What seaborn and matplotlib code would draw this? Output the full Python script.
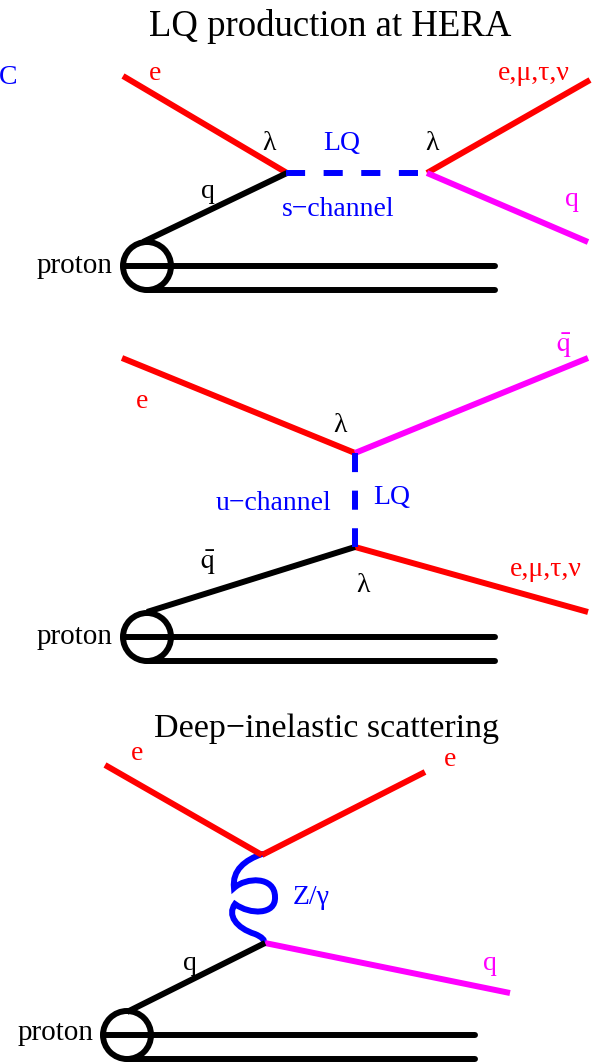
import matplotlib
matplotlib.use("Agg")
import matplotlib.pyplot as plt
import seaborn as sns
import pandas as pd
from matplotlib.patches import Circle, PathPatch
from matplotlib.path import Path

# ---------------- data (diagram geometry in pixel units) ----------------
# propagator / fermion lines: x0, y0, x1, y1
line_names = ["e_in1", "lep_out1", "q_out1", "q_in1", "lq1",
              "e_in2", "qbar_out2", "lep_out2", "qbar_in2", "lq2",
              "e_in3", "e_out3", "q_out3", "q_in3"]
line_x0 = [123, 427, 427, 143, 286, 122, 355, 355, 147, 355, 105, 262, 265, 127]
line_y0 = [76, 173, 173, 242, 173, 358, 453, 547, 612, 453, 765, 855, 943, 1012]
line_x1 = [287, 590, 588, 287, 427, 355, 588, 588, 355, 355, 262, 425, 510, 265]
line_y1 = [173, 80, 242, 173, 173, 453, 358, 612, 547, 547, 855, 772, 993, 943]
line_kind = ["lepton", "lepton", "quark", "parton", "lq",
             "lepton", "quark", "lepton", "parton", "lq",
             "lepton", "lepton", "quark", "parton"]

# proton blobs: centre x, centre y, radius, beam end x
proton_x = [147, 147, 127]
proton_y = [266, 637, 1035]
proton_r = [24, 24, 24]
beam_end = [495, 495, 475]

# labels
label_text = ["C", "e", "λ", "LQ", "λ", "e,μ,τ,ν", "q", "s−channel", "q", "proton",
              "e", r"$\bar{\mathrm{q}}$", "λ", "LQ", "u−channel", r"$\bar{\mathrm{q}}$", "λ", "e,μ,τ,ν", "proton",
              "e", "e", "Z/γ", "q", "q", "proton"]
label_x = [8, 155, 269, 342, 432, 534, 572, 338, 208, 75,
           142, 564, 340, 392, 274, 208, 363, 546, 75,
           137, 450, 311, 490, 190, 56]
label_y = [77, 74, 143, 143, 143, 73, 199, 209, 191, 266,
           401, 346, 426, 498, 503, 563, 586, 569, 637,
           753, 759, 898, 964, 963, 1033]
label_kind = ["blue", "red", "black", "blue", "black", "red", "magenta", "blue", "black", "black",
              "red", "magenta", "black", "blue", "blue", "black", "black", "red", "black",
              "red", "red", "blue", "magenta", "black", "black"]

titles = ["LQ production at HERA", "Deep−inelastic scattering"]
title_x = [330, 327]
title_y = [26, 729]

# Z/gamma exchange curve (cubic Bezier control points)
boson_pts = [(262, 854), (245, 860), (232, 870), (234, 888),
             (246, 877), (275, 876), (275, 897),
             (276, 915), (250, 915), (235, 904),
             (227, 915), (236, 928), (255, 934),
             (262, 937), (265, 940), (264, 943)]

# ---------------- styling ----------------
sns.set_theme(style="white")
plt.rcParams["font.family"] = ["Liberation Serif", "DejaVu Serif"]
plt.rcParams["mathtext.fontset"] = "stix"

colors = {"lepton": "#ff0000", "quark": "#ff00ff", "parton": "#000000", "lq": "#0000ff",
          "red": "#ff0000", "magenta": "#ff00ff", "black": "#000000", "blue": "#0000ff"}
LW = 4.3

fig = plt.figure(figsize=(6.03, 10.62), dpi=100)
ax = fig.add_axes([0, 0, 1, 1])
ax.set_xlim(0, 603)
ax.set_ylim(1062, 0)
ax.axis("off")

for name, x0, y0, x1, y1, k in zip(line_names, line_x0, line_y0, line_x1, line_y1, line_kind):
    df = pd.DataFrame({"x": [x0, x1], "y": [y0, y1]})
    kw = dict(color=colors[k], lw=LW, sort=False, estimator=None, ax=ax, legend=False)
    if k == "lq":
        sns.lineplot(data=df, x="x", y="y", linestyle=(0, (3.2, 3.1)),
                     dash_capstyle="butt", **kw)
    else:
        sns.lineplot(data=df, x="x", y="y", solid_capstyle="butt", **kw)

for cx, cy, r, xe in zip(proton_x, proton_y, proton_r, beam_end):
    ax.add_patch(Circle((cx, cy), r, fill=False, ec="black", lw=LW))
    sns.lineplot(x=[cx - r, xe], y=[cy, cy], color="black", lw=LW, sort=False,
                 estimator=None, ax=ax)
    sns.lineplot(x=[cx, xe], y=[cy + r, cy + r], color="black", lw=LW, sort=False,
                 estimator=None, ax=ax)

codes = [Path.MOVETO] + [Path.CURVE4] * (len(boson_pts) - 1)
ax.add_patch(PathPatch(Path(boson_pts, codes), fill=False, ec="#0000ff", lw=LW,
                       capstyle="round"))

for t, x, y, k in zip(label_text, label_x, label_y, label_kind):
    fs = 21 if t == "proton" else 20
    ax.text(x, y, t, color=colors[k], fontsize=fs, ha="center", va="center")

title_sizes = [26.5, 24.5]
for t, x, y, fs in zip(titles, title_x, title_y, title_sizes):
    ax.text(x, y, t, color="black", fontsize=fs, ha="center", va="center")

ax.set_xlim(0, 603)
ax.set_ylim(1062, 0)
fig.savefig("out.png", dpi=100)
